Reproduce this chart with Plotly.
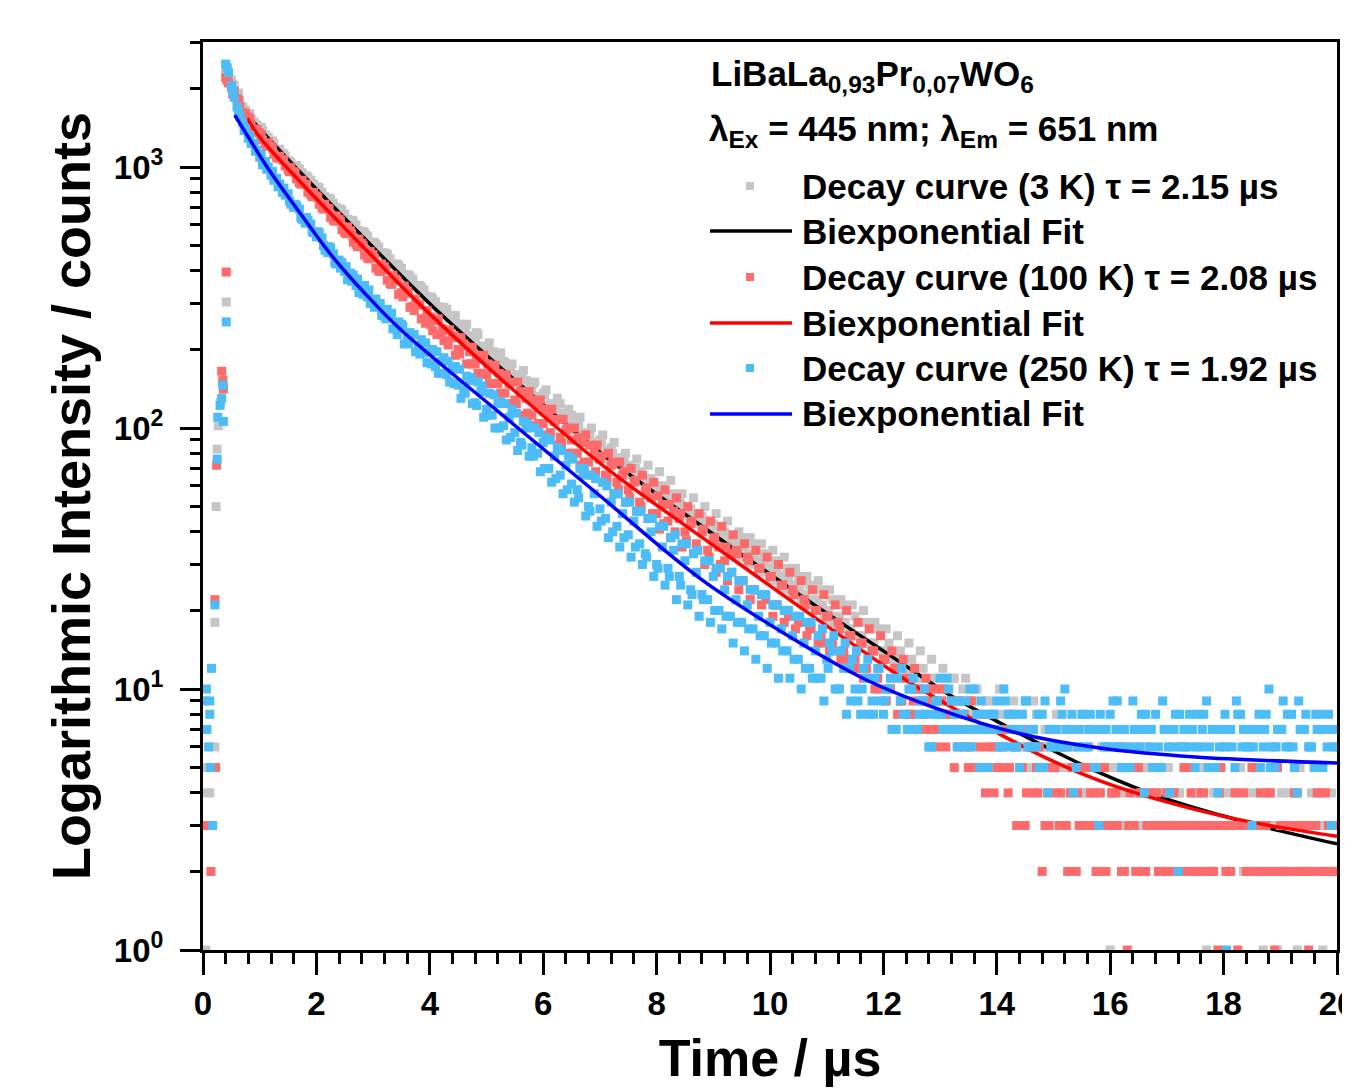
import plotly.graph_objects as go

# ---------------- data ----------------
TIME = [0.4, 0.5, 0.6, 0.7, 0.8, 0.9, 1.0, 1.1, 1.2, 1.3,
        1.4, 1.5, 1.6, 1.7, 1.8, 1.9, 2.0, 2.1, 2.2, 2.3,
        2.4, 2.5, 2.6, 2.7, 2.8, 2.9, 3.0, 3.1, 3.2, 3.3,
        3.4, 3.5, 3.6, 3.7, 3.8, 3.9, 4.0, 4.1, 4.2, 4.3,
        4.4, 4.5, 4.6, 4.7, 4.8, 4.9, 5.0, 5.1, 5.2, 5.3,
        5.4, 5.5, 5.6, 5.7, 5.8, 5.9, 6.0, 6.1, 6.2, 6.3,
        6.4, 6.5, 6.6, 6.7, 6.8, 6.9, 7.0, 7.1, 7.2, 7.3,
        7.4, 7.5, 7.6, 7.7, 7.8, 7.9, 8.0, 8.1, 8.2, 8.3,
        8.4, 8.5, 8.6, 8.7, 8.8, 8.9, 9.0, 9.1, 9.2, 9.3,
        9.4, 9.5, 9.6, 9.7, 9.8, 9.9, 10.0, 10.1, 10.2, 10.3,
        10.4, 10.5, 10.6, 10.7, 10.8, 10.9, 11.0, 11.1, 11.2, 11.3,
        11.4, 11.5, 11.6, 11.7, 11.8, 11.9, 12.0, 12.1, 12.2, 12.3,
        12.4, 12.5, 12.6, 12.7, 12.8, 12.9, 13.0, 13.1, 13.2, 13.3,
        13.4, 13.5, 13.6, 13.7, 13.8, 13.9, 14.0, 14.1, 14.2, 14.3,
        14.4, 14.5, 14.6, 14.7, 14.8, 14.9, 15.0, 15.1, 15.2, 15.3,
        15.4, 15.5, 15.6, 15.7, 15.8, 15.9, 16.0, 16.1, 16.2, 16.3,
        16.4, 16.5, 16.6, 16.7, 16.8, 16.9, 17.0, 17.1, 17.2, 17.3,
        17.4, 17.5, 17.6, 17.7, 17.8, 17.9, 18.0, 18.1, 18.2, 18.3,
        18.4, 18.5, 18.6, 18.7, 18.8, 18.9, 19.0, 19.1, 19.2, 19.3,
        19.4, 19.5, 19.6, 19.7, 19.8, 19.9, 20.0]

HALF_TIME = [0.45, 0.55, 0.65, 0.75, 0.85, 0.95, 1.05, 1.15, 1.25, 1.35,
             1.45, 1.55, 1.65, 1.75, 1.85, 1.95, 2.05, 2.15, 2.25, 2.35,
             2.45, 2.55, 2.65, 2.75, 2.85, 2.95, 3.05, 3.15, 3.25, 3.35,
             3.45, 3.55, 3.65, 3.75, 3.85, 3.95, 4.05, 4.15, 4.25, 4.35,
             4.45, 4.55, 4.65, 4.75, 4.85, 4.95, 5.05, 5.15, 5.25, 5.35,
             5.45, 5.55, 5.65, 5.75, 5.85, 5.95, 6.05, 6.15, 6.25, 6.35,
             6.45, 6.55, 6.65, 6.75, 6.85, 6.95, 7.05, 7.15, 7.25, 7.35,
             7.45, 7.55, 7.65, 7.75, 7.85, 7.95, 8.05, 8.15, 8.25, 8.35,
             8.45, 8.55, 8.65, 8.75, 8.85, 8.95, 9.05, 9.15, 9.25, 9.35,
             9.45, 9.55, 9.65, 9.75, 9.85, 9.95, 10.05, 10.15, 10.25, 10.35,
             10.45, 10.55, 10.65, 10.75, 10.85, 10.95, 11.05, 11.15, 11.25, 11.35,
             11.45, 11.55, 11.65, 11.75, 11.85, 11.95, 12.05, 12.15, 12.25, 12.35,
             12.45, 12.55, 12.65, 12.75, 12.85, 12.95, 13.05, 13.15, 13.25, 13.35,
             13.45, 13.55, 13.65, 13.75, 13.85, 13.95, 14.05, 14.15, 14.25, 14.35,
             14.45, 14.55, 14.65, 14.75, 14.85, 14.95, 15.05, 15.15, 15.25, 15.35,
             15.45, 15.55, 15.65, 15.75, 15.85, 15.95, 16.05, 16.15, 16.25, 16.35,
             16.45, 16.55, 16.65, 16.75, 16.85, 16.95, 17.05, 17.15, 17.25, 17.35,
             17.45, 17.55, 17.65, 17.75, 17.85, 17.95, 18.05, 18.15, 18.25, 18.35,
             18.45, 18.55, 18.65, 18.75, 18.85, 18.95, 19.05, 19.15, 19.25, 19.35,
             19.45, 19.55, 19.65, 19.75, 19.85, 19.95]

QUARTER_TIME = [0.425, 0.525, 0.625, 0.725, 0.825, 0.925, 1.025, 1.125, 1.225, 1.325,
                1.425, 1.525, 1.625, 1.725, 1.825, 1.925, 2.025, 2.125, 2.225, 2.325,
                2.425, 2.525, 2.625, 2.725, 2.825, 2.925, 3.025, 3.125, 3.225, 3.325,
                3.425, 3.525, 3.625, 3.725, 3.825, 3.925, 4.025, 4.125, 4.225, 4.325,
                4.425, 4.525, 4.625, 4.725, 4.825, 4.925, 5.025, 5.125, 5.225, 5.325,
                5.425, 5.525, 5.625, 5.725, 5.825, 5.925, 6.025, 6.125, 6.225, 6.325,
                6.425, 6.525, 6.625, 6.725, 6.825, 6.925, 7.025, 7.125, 7.225, 7.325,
                7.425, 7.525, 7.625, 7.725, 7.825, 7.925, 8.025, 8.125, 8.225, 8.325,
                8.425, 8.525, 8.625, 8.725, 8.825, 8.925, 9.025, 9.125, 9.225, 9.325,
                9.425, 9.525, 9.625, 9.725, 9.825, 9.925, 10.025, 10.125, 10.225, 10.325,
                10.425, 10.525, 10.625, 10.725, 10.825, 10.925, 11.025, 11.125, 11.225, 11.325,
                11.425, 11.525, 11.625, 11.725, 11.825, 11.925, 12.025, 12.125, 12.225, 12.325,
                12.425, 12.525, 12.625, 12.725, 12.825, 12.925, 13.025, 13.125, 13.225, 13.325,
                13.425, 13.525, 13.625, 13.725, 13.825, 13.925, 14.025, 14.125, 14.225, 14.325,
                14.425, 14.525, 14.625, 14.725, 14.825, 14.925, 15.025, 15.125, 15.225, 15.325,
                15.425, 15.525, 15.625, 15.725, 15.825, 15.925, 16.025, 16.125, 16.225, 16.325,
                16.425, 16.525, 16.625, 16.725, 16.825, 16.925, 17.025, 17.125, 17.225, 17.325,
                17.425, 17.525, 17.625, 17.725, 17.825, 17.925, 18.025, 18.125, 18.225, 18.325,
                18.425, 18.525, 18.625, 18.725, 18.825, 18.925, 19.025, 19.125, 19.225, 19.325,
                19.425, 19.525, 19.625, 19.725, 19.825, 19.925]

counts_3K = [2350, 2150, 1900, 1700, 1580, 1490, 1340, 1330, 1250, 1140,
             1130, 1060, 975, 985, 920, 890, 830, 800, 750, 725,
             680, 660, 615, 600, 556, 545, 500, 495, 460, 445,
             420, 410, 375, 372, 340, 338, 310, 305, 280, 285,
             262, 248, 240, 226, 222, 204, 200, 196, 178, 180,
             172, 158, 150, 152, 140, 130, 136, 122, 118, 124,
             108, 112, 98, 96, 94, 86, 90, 80, 84, 76,
             74, 72, 66, 68, 60, 64, 58, 60, 53, 56,
             52, 48, 49, 44, 46, 41, 43, 38, 40, 37,
             32, 38, 30, 36, 28, 33, 26, 31, 24, 29,
             23, 27, 21, 25, 20, 24, 18, 22, 17, 21,
             16, 19, 15, 18, 14, 17, 13, 15, 12, 14,
             11, 13, 10, 12, 9, 11, 10, 8, 11, 9,
             10, 8, 9, 7, 9, 8, 6, 8, 7, 9,
             6, 7, 5, 8, 6, 7, 5, 6, 7, 4,
             6, 5, 7, 4, 5, 6, 1, 5, 4, 6,
             3, 5, 4, 7, 3, 4, 5, 3, 4, 6,
             2, 4, 3, 1, 5, 3, 4, 2, 3, 5,
             3, 4, 2, 1, 3, 6, 2, 3, 4, 1,
             3, 2, 5, 3, 2, 4, 3]

half_3K = [2250, 2050, 1800, 1640, 1530, 1450, 1380, 1300, 1230, 1170,
           1100, 1040, 1010, 950, 910, 860, 830, 770, 750, 700,
           680, 630, 620, 570, 560, 515, 505, 470, 462, 425,
           420, 388, 380, 350, 346, 318, 312, 288, 290, 262,
           270, 238, 250, 222, 228, 200, 212, 184, 194, 170,
           176, 152, 166, 142, 150, 128, 140, 118, 130, 108,
           118, 98, 110, 90, 100, 82, 94, 76, 88, 72,
           80, 66, 76, 62, 72, 58, 68, 53, 63, 50,
           56, 46, 54, 43, 50, 40, 47, 37, 44, 35,
           40, 32, 38, 30, 36, 28, 34, 26, 32, 24,
           29, 22, 27, 21, 26, 19, 24, 18, 22, 17,
           21, 16, 20, 15, 18, 14, 17, 13, 16, 12,
           15, 11, 14, 10, 13, 9, 12, 10, 11, 9,
           11, 8, 10, 7, 9, 8, 10, 7, 8, 6,
           8, 6, 9, 5, 7, 6, 8, 5, 6, 7,
           6, 4, 7, 5, 6, 3, 5, 6, 4, 5,
           5, 3, 6, 4, 2, 5, 3, 4, 6, 3,
           4, 3, 5, 2, 4, 3, 6, 3, 4, 2,
           3, 5, 2, 4, 3, 1, 4, 2, 3, 5,
           2, 4, 3, 1, 3, 2]

quarter_3K = [2380, 2080, 1920, 1660, 1600, 1440, 1420, 1280, 1260, 1140,
              1120, 1050, 1010, 945, 925, 855, 840, 770, 760, 700,
              690, 630, 625, 570, 566, 520, 514, 470, 468, 425,
              425, 385, 386, 352, 352, 318, 318, 292, 290, 266,
              262, 250, 240, 226, 232, 206, 202, 196, 184, 178,
              172, 160, 158, 146, 148, 132, 134, 124, 122, 114,
              114, 104, 104, 96, 95, 88, 88, 82, 80, 77,
              76, 70, 70, 66, 64, 62, 60, 57, 55, 53,
              51, 50, 47, 46, 44, 43, 41, 40, 38, 37,
              36, 35, 33, 32, 31, 30, 29, 28, 27, 26,
              25, 24, 23, 22, 22, 21, 20, 19, 19, 18,
              17, 16, 16, 15, 15, 14, 14, 13, 13, 12,
              12, 11, 11, 10, 10, 9, 10, 9, 8, 9,
              8, 9, 7, 8, 7, 8, 6, 7, 8, 6,
              7, 6, 7, 5, 6, 7, 5, 6, 5, 6,
              5, 4, 6, 5, 4, 5, 4, 5, 3, 5,
              4, 3, 5, 4, 3, 4, 5, 3, 4, 3,
              3, 4, 2, 3, 4, 3, 2, 4, 3, 3,
              2, 3, 4, 3, 2, 3, 4, 2, 3, 2,
              3, 2, 4, 2, 3, 2]

counts_100K = [2200, 2020, 1830, 1620, 1550, 1400, 1350, 1230, 1200, 1090,
               1070, 980, 960, 870, 860, 785, 775, 700, 695, 625,
               630, 562, 570, 505, 510, 450, 462, 400, 415, 358,
               372, 330, 335, 292, 296, 262, 250, 258, 228, 236,
               222, 200, 210, 196, 176, 184, 160, 170, 148, 154,
               148, 128, 138, 130, 112, 122, 104, 110, 106, 92,
               98, 90, 80, 88, 74, 80, 76, 66, 72, 62,
               66, 58, 62, 52, 57, 54, 47, 51, 44, 48,
               45, 40, 43, 36, 40, 34, 37, 35, 31, 33,
               34, 26, 32, 24, 29, 23, 27, 21, 25, 20,
               24, 18, 22, 17, 20, 16, 19, 15, 18, 14,
               16, 13, 15, 12, 14, 11, 13, 10, 12, 9,
               11, 8, 10, 9, 7, 10, 8, 6, 9, 7,
               8, 5, 7, 6, 4, 7, 5, 6, 4, 7,
               5, 3, 6, 5, 2, 4, 5, 3, 6, 4,
               2, 5, 3, 4, 2, 5, 3, 4, 2, 1,
               3, 5, 2, 4, 3, 2, 4, 3, 2, 5,
               3, 2, 4, 3, 2, 1, 3, 2, 4, 3,
               2, 5, 3, 2, 4, 1, 3, 2, 3, 4,
               2, 1, 3, 2, 4, 2, 3]

half_100K = [2100, 1950, 1700, 1600, 1450, 1390, 1270, 1240, 1120, 1100,
             1010, 995, 900, 890, 800, 800, 720, 720, 640, 650,
             575, 590, 515, 530, 460, 475, 410, 425, 368, 385,
             325, 350, 290, 312, 262, 282, 236, 262, 216, 238,
             190, 222, 176, 204, 162, 190, 148, 174, 136, 160,
             124, 150, 112, 138, 102, 128, 94, 118, 86, 108,
             80, 100, 72, 94, 66, 86, 62, 80, 56, 74,
             52, 70, 48, 66, 45, 62, 41, 58, 38, 54,
             35, 50, 33, 47, 30, 44, 28, 42, 26, 39,
             24, 36, 22, 34, 21, 32, 19, 30, 18, 28,
             17, 26, 16, 24, 15, 23, 14, 21, 13, 20,
             12, 18, 11, 17, 10, 16, 9, 14, 8, 13,
             8, 12, 7, 11, 9, 6, 10, 8, 5, 9,
             6, 9, 5, 8, 6, 4, 7, 5, 8, 3,
             5, 7, 4, 6, 3, 5, 4, 6, 2, 5,
             3, 5, 4, 2, 5, 3, 4, 6, 2, 4,
             2, 4, 3, 5, 2, 3, 4, 2, 3, 5,
             2, 3, 4, 2, 3, 5, 2, 3, 1, 4,
             3, 2, 4, 3, 2, 5, 2, 3, 4, 2,
             3, 2, 4, 2, 3, 2]

quarter_100K = [2150, 1900, 1800, 1560, 1520, 1360, 1330, 1200, 1180, 1080,
                1060, 960, 950, 860, 855, 770, 765, 690, 690, 620,
                620, 555, 555, 495, 500, 445, 448, 398, 402, 355,
                366, 318, 328, 282, 296, 252, 266, 228, 240, 208,
                226, 192, 206, 176, 190, 162, 176, 148, 162, 136,
                150, 124, 138, 114, 128, 104, 118, 96, 108, 88,
                100, 80, 92, 74, 86, 68, 78, 64, 74, 58,
                68, 54, 63, 50, 59, 47, 55, 43, 51, 40,
                47, 37, 44, 34, 41, 32, 38, 30, 35, 28,
                33, 26, 31, 24, 29, 22, 27, 21, 25, 19,
                23, 18, 21, 17, 20, 15, 19, 14, 17, 13,
                16, 12, 15, 11, 14, 10, 13, 10, 12, 9,
                11, 9, 10, 8, 10, 7, 9, 8, 8, 6,
                8, 6, 7, 5, 7, 6, 5, 7, 5, 6,
                5, 4, 6, 4, 5, 3, 5, 4, 3, 5,
                4, 3, 5, 3, 4, 2, 4, 3, 5, 3,
                3, 4, 2, 3, 4, 3, 2, 4, 3, 2,
                4, 3, 2, 3, 2, 4, 3, 2, 3, 3,
                2, 3, 3, 2, 4, 2, 3, 3, 2, 3,
                3, 2, 3, 4, 2, 3]

counts_250K = [2480, 2050, 1700, 1480, 1290, 1230, 1090, 1050, 930, 905,
               800, 790, 700, 690, 610, 605, 540, 535, 470, 465,
               440, 398, 392, 352, 350, 318, 300, 298, 268, 270,
               240, 250, 220, 228, 202, 194, 196, 172, 180, 160,
               168, 146, 140, 152, 125, 138, 118, 112, 124, 102,
               110, 96, 88, 100, 84, 80, 88, 70, 78, 66,
               72, 61, 58, 66, 50, 56, 49, 45, 52, 42,
               47, 39, 44, 36, 33, 40, 30, 35, 29, 34,
               27, 31, 24, 28, 23, 22, 27, 20, 24, 19,
               22, 18, 21, 17, 19, 16, 18, 15, 17, 14,
               16, 13, 15, 12, 14, 11, 13, 14, 10, 12,
               12, 10, 8, 11, 9, 12, 8, 10, 7, 9,
               8, 10, 7, 9, 6, 8, 11, 7, 9, 6,
               8, 7, 10, 5, 8, 7, 9, 6, 8, 7,
               5, 9, 7, 6, 8, 4, 7, 6, 10, 7,
               5, 8, 6, 7, 3, 6, 8, 7, 5, 6,
               9, 7, 4, 6, 8, 5, 7, 6, 2, 7,
               8, 5, 6, 9, 7, 4, 6, 7, 5, 8,
               6, 3, 7, 6, 10, 5, 7, 6, 8, 4,
               7, 6, 5, 8, 7, 3, 6]

half_250K = [2300, 1850, 1560, 1400, 1230, 1160, 1020, 1000, 890, 860,
             780, 720, 710, 630, 625, 560, 560, 480, 490, 425,
             430, 370, 385, 330, 352, 300, 312, 270, 285, 240,
             255, 210, 232, 196, 218, 178, 200, 162, 186, 150,
             172, 130, 158, 124, 150, 110, 136, 100, 126, 90,
             118, 82, 106, 78, 100, 68, 92, 62, 84, 56,
             78, 52, 70, 46, 66, 42, 62, 38, 56, 35,
             52, 32, 48, 30, 45, 27, 42, 25, 38, 22,
             36, 21, 33, 19, 31, 18, 29, 17, 27, 15,
             26, 14, 24, 13, 23, 12, 21, 11, 20, 11,
             19, 10, 18, 11, 16, 9, 15, 10, 14, 8,
             13, 9, 12, 8, 11, 9, 10, 7, 11, 8,
             10, 7, 9, 8, 6, 9, 7, 10, 8, 7,
             9, 6, 8, 7, 5, 8, 6, 9, 7, 6,
             8, 6, 7, 5, 9, 6, 7, 8, 6, 4,
             7, 6, 8, 5, 7, 6, 9, 6, 7, 5,
             6, 8, 7, 5, 6, 7, 4, 8, 6, 7,
             7, 6, 8, 6, 5, 7, 1, 6, 8, 7,
             6, 7, 5, 8, 6, 7, 9, 6, 5, 7,
             8, 6, 7, 5, 8, 6]

quarter_250K = [2400, 1950, 1640, 1380, 1320, 1150, 1120, 980, 960, 840,
                830, 740, 720, 640, 640, 565, 565, 500, 495, 430,
                410, 415, 365, 372, 325, 338, 290, 300, 262, 275,
                228, 245, 210, 228, 192, 212, 176, 196, 162, 180,
                148, 168, 136, 156, 122, 145, 112, 134, 100, 124,
                92, 114, 86, 104, 78, 96, 70, 90, 64, 82,
                58, 76, 54, 70, 48, 64, 44, 60, 40, 56,
                38, 52, 35, 48, 32, 45, 29, 42, 27, 39,
                25, 36, 23, 34, 22, 31, 20, 29, 19, 28,
                18, 26, 17, 24, 16, 23, 15, 21, 14, 20,
                13, 19, 12, 18, 11, 17, 12, 16, 10, 15,
                9, 14, 10, 13, 8, 12, 9, 11, 7, 12,
                7, 11, 8, 10, 6, 9, 8, 11, 7, 9,
                6, 10, 7, 9, 5, 8, 7, 10, 6, 8,
                7, 9, 6, 8, 5, 7, 6, 9, 7, 8,
                6, 8, 7, 5, 8, 7, 6, 9, 7, 5,
                7, 6, 8, 7, 5, 9, 6, 7, 8, 6,
                6, 8, 7, 5, 7, 6, 8, 7, 9, 6,
                7, 6, 8, 7, 5, 6, 7, 8, 6, 9,
                7, 6, 8, 7, 6, 7]

# rising edge (before the maximum)
rise_t_3K = [0.05, 0.06, 0.12, 0.03, 0.21, 0.21, 0.23, 0.25, 0.27, 0.31, 0.34, 0.41]
rise_y_3K = [1, 4, 4, 5, 6, 18, 50, 83, 102, 125, 150, 304]
rise_t_100K = [0.04, 0.14, 0.22, 0.21, 0.24, 0.33, 0.36, 0.35, 0.41]
rise_y_100K = [3, 2, 5, 22, 72, 165, 141, 152, 396]
rise_t_250K = [0.06, 0.03, 0.12, 0.12, 0.07, 0.10, 0.13, 0.17, 0.15, 0.21, 0.25,
               0.26, 0.30, 0.33, 0.35, 0.36, 0.41]
rise_y_250K = [10, 9, 9, 8, 7, 6, 5, 3, 12, 21, 76, 110, 122, 130, 146, 106, 255]

# biexponential fits
fit_t_3K = [0.65, 1.0, 1.71, 2.89, 4.06, 5.24, 7.0, 8.77, 10.53, 12.29, 13.17,
            14.06, 14.94, 15.82, 16.88, 18.0, 19.0, 20.0]
fit_y_3K = [1698, 1400, 957, 521, 291, 171, 80.9, 42.5, 22.9, 12.7, 9.48,
            7.41, 5.89, 4.77, 3.86, 3.26, 2.86, 2.55]
fit_t_100K = [0.78, 1.0, 1.71, 2.29, 2.89, 3.47, 4.06, 5.24, 7.0, 8.77, 10.53,
              12.29, 13.17, 14.06, 14.94, 15.82, 16.88, 18.0, 19.0, 20.0]
fit_y_100K = [1540, 1300, 880, 650, 478, 355, 266, 155, 73.4, 38.5, 20.6,
              11.2, 8.6, 6.7, 5.35, 4.45, 3.75, 3.25, 2.95, 2.73]
fit_t_250K = [0.56, 0.85, 1.13, 1.71, 2.29, 2.89, 3.47, 5.24, 7.0, 8.77, 10.53,
              11.71, 12.87, 14.36, 15.82, 17.5, 20.0]
fit_y_250K = [1581, 1250, 1000, 666, 452, 322, 240, 114, 55, 26.5, 15.0,
              10.8, 8.53, 6.78, 5.94, 5.49, 5.21]

y_tickvals = [1, 10, 100, 1000]
y_ticktext = ["10<sup>0</sup>", "10<sup>1</sup>", "10<sup>2</sup>", "10<sup>3</sup>"]
y_minor = [2, 3, 4, 5, 6, 7, 8, 9, 20, 30, 40, 50, 60, 70, 80, 90,
           200, 300, 400, 500, 600, 700, 800, 900, 2000, 3000]

GRAY = "#c6c6c6"
SALMON = "#ff6b6b"
SKY = "#4dbdfa"

FONT = "Liberation Sans, Arial, sans-serif"

fig = go.Figure()

mk = dict(symbol="square", size=9, line=dict(width=0))


def pts(rise_t, rise_y, a, b, c):
    return rise_t + TIME + HALF_TIME + QUARTER_TIME, rise_y + a + b + c


x3, y3 = pts(rise_t_3K, rise_y_3K, counts_3K, half_3K, quarter_3K)
x100, y100 = pts(rise_t_100K, rise_y_100K, counts_100K, half_100K, quarter_100K)
x250, y250 = pts(rise_t_250K, rise_y_250K, counts_250K, half_250K, quarter_250K)

fig.add_trace(go.Scatter(x=x3, y=y3, mode="markers", marker=dict(color=GRAY, **mk), name="Decay curve (3 K)"))
fig.add_trace(go.Scatter(x=fit_t_3K, y=fit_y_3K, mode="lines", line=dict(color="black", width=3.5, shape="spline"),
                         name="Biexponential Fit"))
fig.add_trace(go.Scatter(x=x100, y=y100, mode="markers", marker=dict(color=SALMON, **mk), name="Decay curve (100 K)"))
fig.add_trace(go.Scatter(x=fit_t_100K, y=fit_y_100K, mode="lines", line=dict(color="#ff0000", width=3.5, shape="spline"),
                         name="Biexponential Fit"))
fig.add_trace(go.Scatter(x=x250, y=y250, mode="markers", marker=dict(color=SKY, **mk), name="Decay curve (250 K)"))
fig.add_trace(go.Scatter(x=fit_t_250K, y=fit_y_250K, mode="lines", line=dict(color="#0000ff", width=3.5, shape="spline"),
                         name="Biexponential Fit"))

# ---------------- layout ----------------
# the page body adds an 8 px offset; the plot area lands at x 203..1337, y 42..950 on screen
W, H = 1342, 1081
L, R, T, B = 195, 13, 34, 139
SX0, SX1, SY0, SY1 = 203, 1337, 42, 950


def px(xs):
    return (xs - SX0) / (SX1 - SX0)


def py(ys):
    return (SY1 - ys) / (SY1 - SY0)


fig.update_layout(
    width=W, height=H,
    margin=dict(l=L, r=R, t=T, b=B),
    paper_bgcolor="white", plot_bgcolor="white",
    showlegend=False,
    font=dict(family=FONT, color="black", weight="bold"),
)

fig.update_xaxes(
    range=[0, 20], showline=True, linewidth=3, linecolor="black", mirror=True,
    ticks="outside", ticklen=22, tickwidth=3, tickcolor="black",
    tick0=0, dtick=2, showgrid=False, zeroline=False, automargin=False,
    tickfont=dict(size=33, family=FONT, weight="bold"), ticklabelstandoff=0,
    ticklabeloverflow="allow",
    minor=dict(ticks="outside", ticklen=11, tickwidth=2.5, tickcolor="black", tick0=0, dtick=0.4, showgrid=False),
    title=dict(text="Time / µs", font=dict(size=52, family=FONT, weight="bold"), standoff=20),
)

fig.update_yaxes(
    type="log", range=[0, 3.479], showline=True, linewidth=3, linecolor="black", mirror=True,
    ticks="outside", ticklen=20, tickwidth=3, tickcolor="black",
    tickvals=y_tickvals, ticktext=y_ticktext, showgrid=False, zeroline=False, automargin=False,
    tickfont=dict(size=33, family=FONT, weight="bold"), ticklabelstandoff=10,
    minor=dict(ticks="outside", ticklen=10, tickwidth=2.5, tickcolor="black", tickvals=y_minor, showgrid=False),
    title=dict(text="Logarithmic Intensity / counts", font=dict(size=54, family=FONT, weight="bold"), standoff=6),
)

# ---------------- legend drawn by hand ----------------
LEG_FS = 35
anns = []
anns.append(dict(x=px(709), y=py(76), text="LiBaLa<sub>0,93</sub>Pr<sub>0,07</sub>WO<sub>6</sub>"))
anns.append(dict(x=px(707), y=py(131),
                 text="λ<sub>Ex</sub> = 445 nm; λ<sub>Em</sub> = 651 nm"))
entries = [
    (186, "Decay curve (3 K) τ = 2.15 µs"),
    (231, "Biexponential Fit"),
    (277, "Decay curve (100 K) τ = 2.08 µs"),
    (323, "Biexponential Fit"),
    (368, "Decay curve (250 K) τ = 1.92 µs"),
    (414, "Biexponential Fit"),
]
for yy, txt in entries:
    anns.append(dict(x=px(800), y=py(yy), text=txt))
for a in anns:
    a.update(xref="paper", yref="paper", xanchor="left", yanchor="middle", showarrow=False,
             font=dict(size=LEG_FS, family=FONT, color="black", weight="bold"))
fig.update_layout(annotations=anns)

shapes = []
for yy, col in [(231, "black"), (323, "#ff0000"), (414, "#0000ff")]:
    shapes.append(dict(type="line", xref="paper", yref="paper", x0=px(710), x1=px(792), y0=py(yy), y1=py(yy),
                       line=dict(color=col, width=3.5)))
for yy, col in [(186, GRAY), (277, SALMON), (368, SKY)]:
    shapes.append(dict(type="rect", xref="paper", yref="paper", x0=px(746), x1=px(754), y0=py(yy + 4), y1=py(yy - 4),
                       fillcolor=col, line=dict(width=0)))
fig.update_layout(shapes=shapes)

fig.write_html("out.html")
